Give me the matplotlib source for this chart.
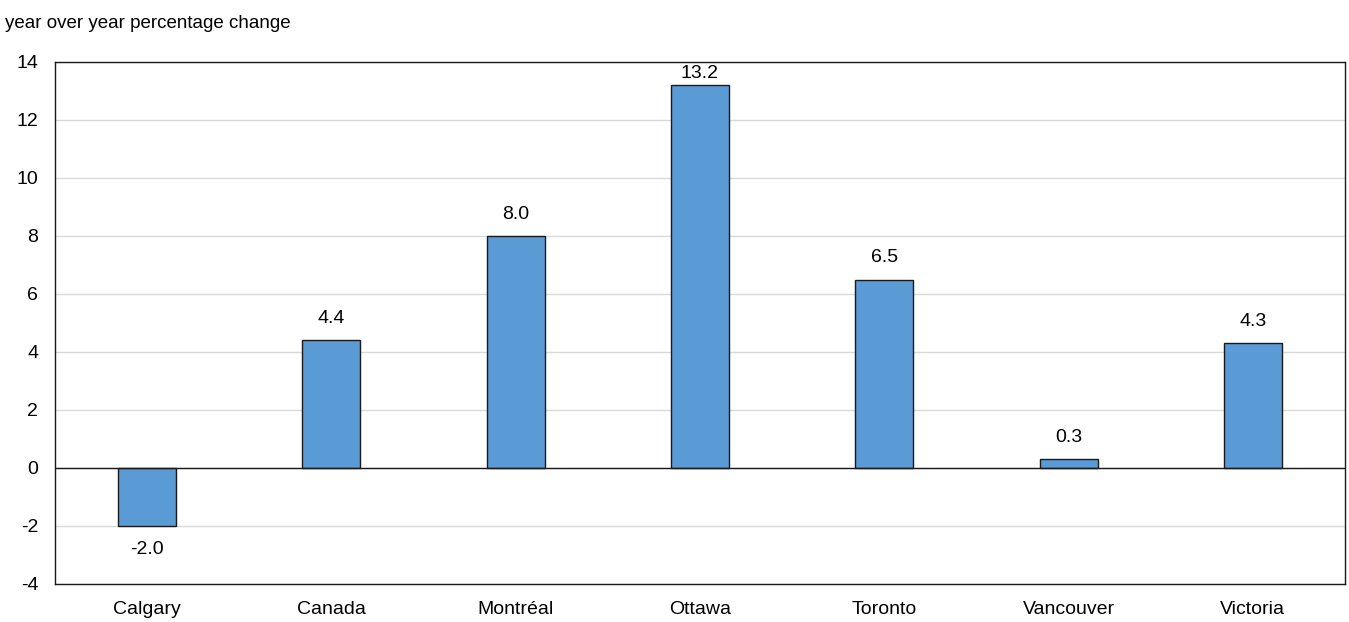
import matplotlib
matplotlib.use('Agg')
import matplotlib.pyplot as plt

cities = ['Calgary', 'Canada', 'Montréal', 'Ottawa', 'Toronto', 'Vancouver', 'Victoria']
values = [-2.0, 4.4, 8.0, 13.2, 6.5, 0.3, 4.3]
yticks = [-4, -2, 0, 2, 4, 6, 8, 10, 12, 14]

plt.rcParams['font.family'] = ['Liberation Sans', 'DejaVu Sans']
plt.rcParams['font.size'] = 14

fig = plt.figure(figsize=(13.49, 6.22), dpi=100)
ax = fig.add_axes([55 / 1349, 1 - 584 / 622, 1290 / 1349, 522 / 622])

x = range(len(cities))
ax.bar(x, values, width=0.315, color='#5b9bd5', edgecolor='#1a1a1a', linewidth=1, zorder=3)

# value labels, the tallest one squeezed under the frame
for xi, v in zip(x, values):
    if v >= 0:
        ax.text(xi, min(v + 0.45, 13.3), f'{v:.1f}', ha='center', va='bottom', fontsize=14)
    else:
        ax.text(xi, v - 0.5, f'{v:.1f}', ha='center', va='top', fontsize=14)

ax.set_xlim(-0.5, len(cities) - 0.5)
ax.set_ylim(-4, 14)
ax.set_yticks(yticks)
ax.set_yticklabels([str(t) for t in yticks])
ax.set_xticks(list(x))
ax.set_xticklabels(cities)
ax.tick_params(axis='both', length=0, labelsize=14)
ax.tick_params(axis='y', pad=12)
ax.tick_params(axis='x', pad=12)

ax.yaxis.grid(True, color='#d9d9d9', linewidth=1, zorder=0)
ax.axhline(0, color='#1a1a1a', linewidth=1, zorder=4)
for s in ax.spines.values():
    s.set_color('#1a1a1a')
    s.set_linewidth(1)

fig.text(5 / 1349, 1 - 23 / 622, 'year over year percentage change', fontsize=13.5,
         ha='left', va='center')

fig.savefig('out.png', dpi=100)
